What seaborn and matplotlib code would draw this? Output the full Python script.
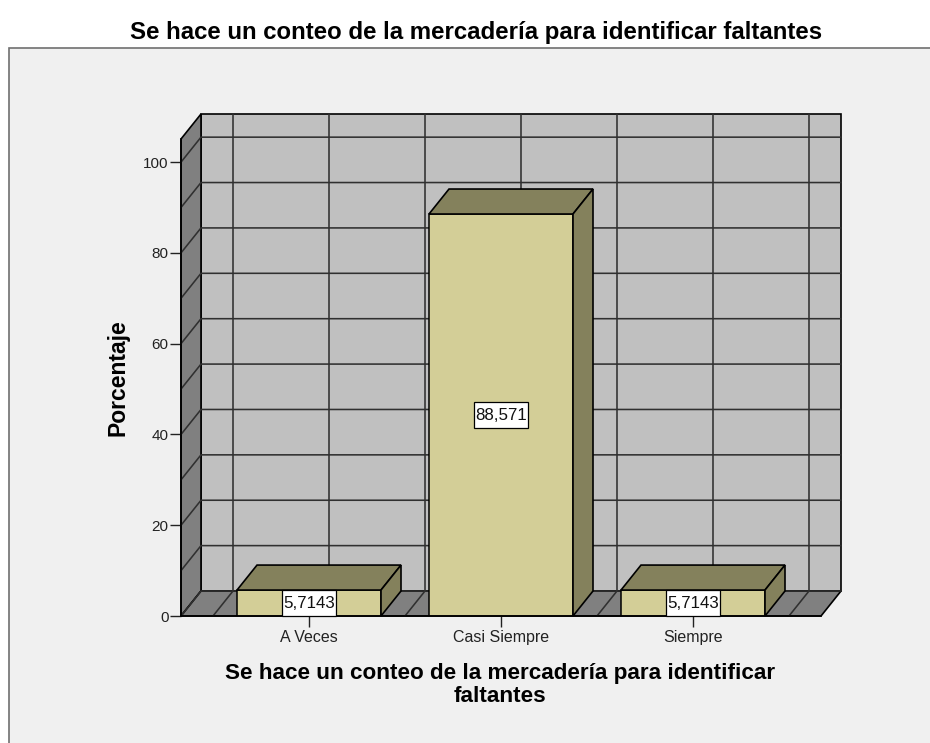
import pandas as pd
import seaborn as sns
import matplotlib.pyplot as plt
from matplotlib.patches import Polygon, Rectangle

categories = ['A Veces', 'Casi Siempre', 'Siempre']
porcentaje = [5.7143, 88.571, 5.7143]
bar_labels = ['5,7143', '88,571', '5,7143']
y_ticks = [0, 20, 40, 60, 80, 100]
grid_y = [0, 10, 20, 30, 40, 50, 60, 70, 80, 90, 100]
grid_x = [-0.5, 0, 0.5, 1, 1.5, 2, 2.5]
title = 'Se hace un conteo de la mercadería para identificar faltantes'
xlabel = 'Se hace un conteo de la mercadería para identificar\nfaltantes'

W, H = 930, 743
sns.set_theme(style='white')
plt.rcParams['font.family'] = ['Liberation Sans', 'DejaVu Sans']

fig = plt.figure(figsize=(W / 100, H / 100), dpi=100, facecolor='white')
# grey panel, runs off the right and bottom of the image
fig.add_artist(Rectangle((9 / W, -0.01), 1, (H - 48) / H + 0.01, transform=fig.transFigure,
                         facecolor='#f0f0f0', edgecolor='#707070', linewidth=1.2, zorder=-1))

ax = fig.add_axes([181 / W, (H - 616) / H, 640 / W, 477 / H])
ax.patch.set_alpha(0)

df = pd.DataFrame({'cat': categories, 'pct': porcentaje})
sns.barplot(data=df, x='cat', y='pct', color='#d3ce97', saturation=1, width=0.75,
            edgecolor='black', linewidth=1.1, ax=ax)

x0, x1 = -0.6667, 2.6667
ymax = 105.1
ax.set_xlim(x0, x1)
ax.set_ylim(0, ymax)
# depth of the fake 3d box in data units
dx = 20 / 192
dy = 25 / 4.54

wall_line = dict(color='#303030', lw=1.15, zorder=0.7, clip_on=False)
edge = dict(edgecolor='black', linewidth=1.2, clip_on=False)

# back wall, left wall, floor
ax.add_patch(Polygon([(x0 + dx, dy), (x1 + dx, dy), (x1 + dx, ymax + dy), (x0 + dx, ymax + dy)],
                     facecolor='#c0c0c0', zorder=0.5, **edge))
ax.add_patch(Polygon([(x0, 0), (x0 + dx, dy), (x0 + dx, ymax + dy), (x0, ymax)],
                     facecolor='#808080', zorder=0.6, **edge))
ax.add_patch(Polygon([(x0, 0), (x0 + dx, dy), (x1 + dx, dy), (x1, 0)],
                     facecolor='#808080', zorder=0.6, **edge))

for g in grid_y:
    ax.plot([x0, x0 + dx, x1 + dx], [g, g + dy, g + dy], **wall_line)
for g in grid_x:
    ax.plot([g, g + dx, g + dx], [0, dy, ymax + dy], **wall_line)

# top and side faces of the bars, then the value boxes
box_w = 54 / 192
box_h = 26 / 4.54
for i, v in enumerate(porcentaje):
    l, r = i - 0.375, i + 0.375
    ax.add_patch(Polygon([(l, v), (l + dx, v + dy), (r + dx, v + dy), (r, v)],
                         facecolor='#84815c', zorder=1.1, **edge))
    ax.add_patch(Polygon([(r, 0), (r + dx, dy), (r + dx, v + dy), (r, v)],
                         facecolor='#84815c', zorder=1.1, **edge))
    ax.add_patch(Rectangle((i - box_w / 2, v / 2 - box_h / 2), box_w, box_h, facecolor='white',
                           edgecolor='black', linewidth=0.9, zorder=4, clip_on=False))
    ax.text(i, v / 2, bar_labels[i], ha='center', va='center', fontsize=12.2, color='#111111', zorder=5)

sns.despine(ax=ax, top=True, right=True)
for s in ['left', 'bottom']:
    ax.spines[s].set_color('black')
    ax.spines[s].set_linewidth(1.2)
    ax.spines[s].set_zorder(3)

ax.set_yticks(y_ticks)
ax.set_xticks(range(len(categories)))
ax.set_xticklabels(categories)
ax.tick_params(axis='both', direction='out', length=8, width=1.0, color='#222222',
               labelsize=11.5, labelcolor='#222222', pad=2, left=True, bottom=True)
ax.tick_params(axis='y', labelsize=11, pad=1)
ax.set_xlabel('')
ax.set_ylabel('')

fig.text(476.5 / W, 1 - 32 / H, title, ha='center', va='center', fontsize=17.3, fontweight='bold', color='black')
fig.text(118 / W, 1 - 378 / H, 'Porcentaje', ha='center', va='center', rotation=90,
         fontsize=16.5, fontweight='bold', color='black')
fig.text(500 / W, 1 - 685 / H, xlabel, ha='center', va='center', fontsize=16.2, fontweight='bold',
         color='black', linespacing=1.1)

fig.savefig('out.png', dpi=100)
